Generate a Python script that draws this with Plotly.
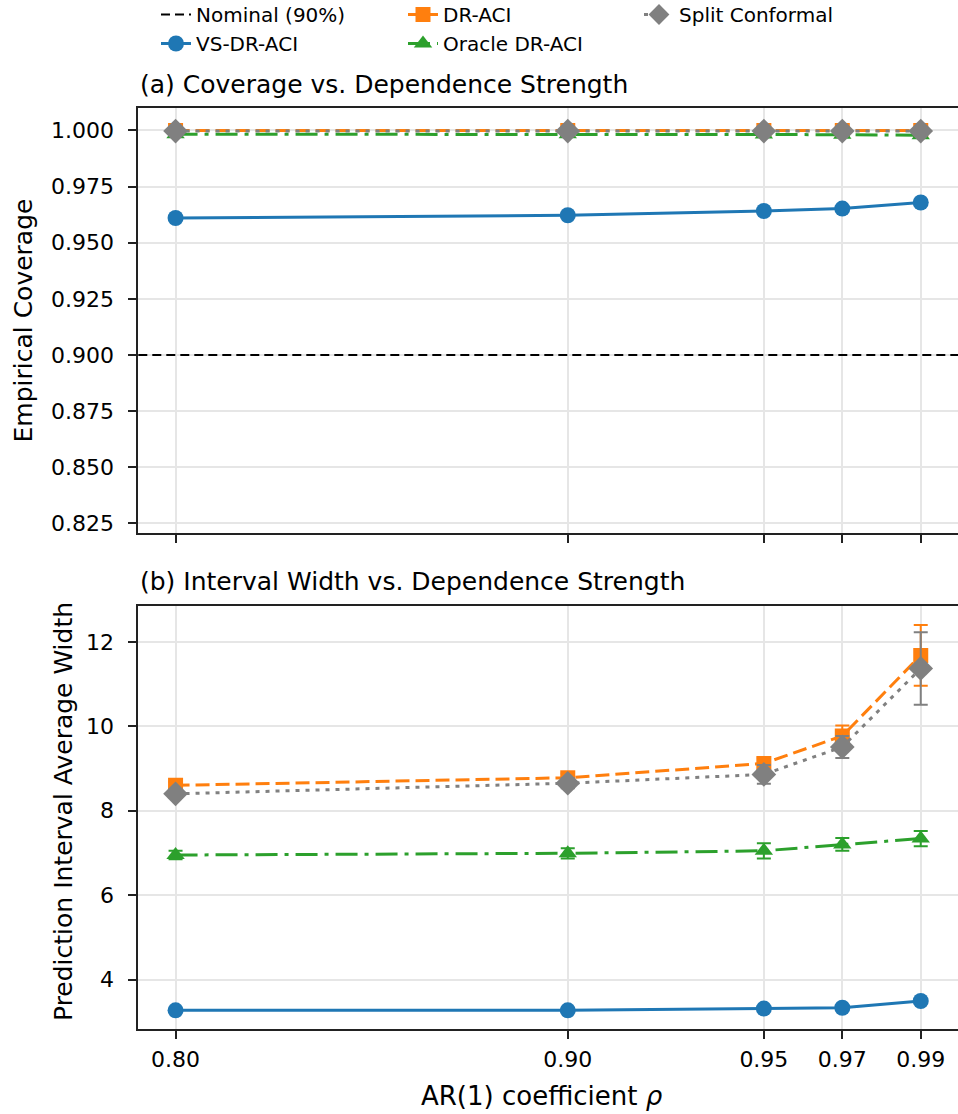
import plotly.graph_objects as go

# ---------------- data ----------------
rho = [0.80, 0.90, 0.95, 0.97, 0.99]
rho_labels = ["0.80", "0.90", "0.95", "0.97", "0.99"]
nominal = 0.90

cov_vs = [0.9610, 0.9622, 0.9641, 0.9652, 0.9679]
cov_dr = [0.9999, 0.9999, 0.9999, 0.9999, 0.9999]
cov_oracle = [0.9983, 0.9983, 0.9982, 0.9981, 0.9978]
cov_split = [0.9997, 0.9997, 0.9997, 0.9997, 0.9997]
cov_err_vs = [0.0005, 0.0005, 0.0005, 0.0005, 0.0005]
cov_err_dr = [0.0002, 0.0002, 0.0002, 0.0002, 0.0003]
cov_err_oracle = [0.0003, 0.0003, 0.0003, 0.0003, 0.0004]
cov_err_split = [0.0002, 0.0002, 0.0002, 0.0002, 0.0003]

w_vs = [3.27, 3.27, 3.31, 3.33, 3.49]
w_dr = [8.60, 8.78, 9.12, 9.77, 11.68]
w_oracle = [6.95, 6.99, 7.05, 7.20, 7.34]
w_split = [8.40, 8.65, 8.86, 9.51, 11.37]
w_err_vs = [0.03, 0.03, 0.03, 0.04, 0.05]
w_err_dr = [0.08, 0.10, 0.12, 0.25, 0.72]
w_err_oracle = [0.10, 0.12, 0.18, 0.15, 0.18]
w_err_split = [0.10, 0.12, 0.22, 0.26, 0.86]

cov_ticks = [0.825, 0.850, 0.875, 0.900, 0.925, 0.950, 0.975, 1.000]
w_ticks = [4, 6, 8, 10, 12]

# ---------------- layout helpers ----------------
W, H = 958, 1114
FONT = "DejaVu Sans"
def px_x(p):
    return p / W
def px_y(p):
    return 1 - p / H

x_dom = [px_x(138.3), 1.0]
top_dom = [px_y(533.3), px_y(107.7)]
bot_dom = [px_y(1029.3), px_y(606)]
x_range = [0.7905, 0.9995]

BLUE, ORANGE, GREEN, GRAY = "#1f77b4", "#ff7f0e", "#2ca02c", "#808080"

series = [
    # name, color, symbol, dash, cov, cov_err, width, width_err, legend, size
    ("VS-DR-ACI", BLUE, "circle", "solid", cov_vs, cov_err_vs, w_vs, w_err_vs, "legend", 16),
    ("DR-ACI", ORANGE, "square", "14px,6px", cov_dr, cov_err_dr, w_dr, w_err_dr, "legend2", 15),
    ("Oracle DR-ACI", GREEN, "triangle-up", "22px,7px,4px,7px", cov_oracle, cov_err_oracle, w_oracle, w_err_oracle, "legend2", 16),
    ("Split Conformal", GRAY, "diamond", "4px,6px", cov_split, cov_err_split, w_split, w_err_split, "legend3", 19),
]

fig = go.Figure()

# legend entry for nominal line
fig.add_trace(go.Scatter(x=[None], y=[None], mode="lines", name="Nominal (90%)",
                         line=dict(color="black", width=2, dash="9px,5px"),
                         legend="legend", xaxis="x", yaxis="y"))

for name, col, sym, dash, cov, cerr, wd, werr, leg, sz in series:
    fig.add_trace(go.Scatter(
        x=rho, y=cov, mode="lines+markers", name=name, legend=leg,
        line=dict(color=col, width=3, dash=dash),
        marker=dict(symbol=sym, size=sz, color=col),
        error_y=dict(type="data", array=cerr, color=col, thickness=2, width=7),
        xaxis="x", yaxis="y", showlegend=True))
    fig.add_trace(go.Scatter(
        x=rho, y=wd, mode="lines+markers", name=name, legend=leg,
        line=dict(color=col, width=3, dash=dash),
        marker=dict(symbol=sym, size=sz, color=col),
        error_y=dict(type="data", array=werr, color=col, thickness=2, width=7),
        xaxis="x2", yaxis="y2", showlegend=False))

fig.add_shape(type="line", xref="x domain", yref="y", x0=0, x1=1, y0=nominal, y1=nominal,
              line=dict(color="black", width=2, dash="9px,5px"), layer="above")

axis_common = dict(
    showline=True, linecolor="#222222", linewidth=2,
    ticks="outside", ticklen=8, tickwidth=2, tickcolor="#222222",
    showgrid=True, gridcolor="#e6e6e6", gridwidth=1.5,
    zeroline=False, automargin=False,
    tickfont=dict(family=FONT, size=22, color="black"),
)

fig.update_layout(
    width=W, height=H,
    margin=dict(l=0, r=0, t=0, b=0, autoexpand=False),
    paper_bgcolor="white", plot_bgcolor="white",
    font=dict(family=FONT, color="black"),
    showlegend=True,
    xaxis=dict(domain=x_dom, anchor="y", range=x_range, tickvals=rho, ticktext=rho_labels,
               showticklabels=False, mirror=True, **axis_common),
    yaxis=dict(domain=top_dom, anchor="x", range=[0.8206, 1.0101], tickvals=cov_ticks,
               ticktext=[f"{v:.3f}" for v in cov_ticks], ticklabelstandoff=10, **axis_common),
    xaxis2=dict(domain=x_dom, anchor="y2", range=x_range, tickvals=rho, ticktext=rho_labels,
                mirror=True, ticklabelstandoff=1, **axis_common),
    yaxis2=dict(domain=bot_dom, anchor="x2", range=[2.82, 12.85], tickvals=w_ticks,
                ticktext=[str(v) for v in w_ticks], ticklabelstandoff=10, **axis_common),
)

leg_common = dict(orientation="v", xanchor="left", yanchor="top", bgcolor="rgba(0,0,0,0)",
                  font=dict(family=FONT, size=20, color="black"), tracegroupgap=0,
                  itemsizing="trace", yref="paper", xref="paper")
fig.update_layout(
    legend=dict(x=px_x(156), y=px_y(-5), **leg_common),
    legend2=dict(x=px_x(403), y=px_y(-5), **leg_common),
    legend3=dict(x=px_x(639), y=px_y(-5), **leg_common),
)

annots = [
    dict(text="(a) Coverage vs. Dependence Strength", x=px_x(138.3), y=px_y(84.5),
         xanchor="left", yanchor="middle", font=dict(size=25)),
    dict(text="(b) Interval Width vs. Dependence Strength", x=px_x(138.3), y=px_y(581),
         xanchor="left", yanchor="middle", font=dict(size=25)),
    dict(text="Empirical Coverage", x=px_x(23), y=px_y(320.5), textangle=-90,
         xanchor="center", yanchor="middle", font=dict(size=25)),
    dict(text="Prediction Interval Average Width", x=px_x(63), y=px_y(812), textangle=-90,
         xanchor="center", yanchor="middle", font=dict(size=25)),
    dict(text="AR(1) coefficient <i>ρ</i>", x=px_x(542), y=px_y(1096),
         xanchor="center", yanchor="middle", font=dict(size=26)),
]
for a in annots:
    a.update(xref="paper", yref="paper", showarrow=False)
    a["font"] = dict(family=FONT, color="black", **a["font"])
    fig.add_annotation(**a)

fig.write_html("out.html", config={"displayModeBar": False},
               post_script="document.body.style.margin='0px';")
